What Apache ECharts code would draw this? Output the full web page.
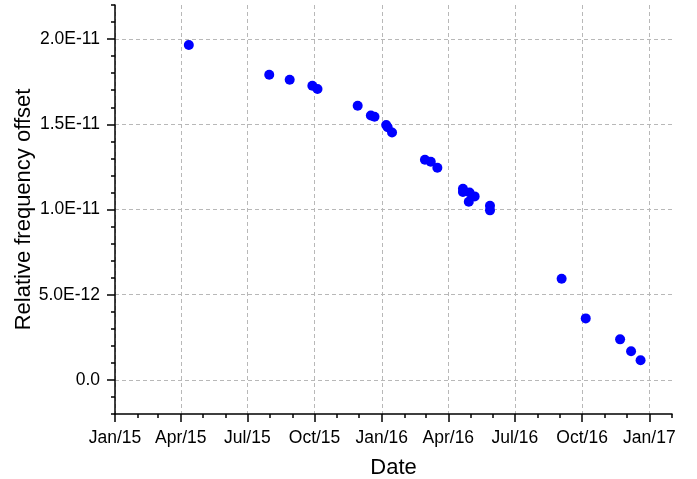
<!DOCTYPE html>
<html><head><meta charset="utf-8">
<script src="https://cdn.jsdelivr.net/npm/echarts@6/dist/echarts.min.js"></script>
<style>html,body{margin:0;padding:0;background:#fff}#c{width:697px;height:479px}</style>
</head><body><div id="c"></div>
<script>
const dates = ['2015-04-12','2015-07-31','2015-08-28','2015-09-28','2015-10-05','2015-11-29','2015-12-17','2015-12-22','2016-01-07','2016-01-09','2016-01-15','2016-02-29','2016-03-08','2016-03-17','2016-04-21','2016-04-21','2016-04-30','2016-05-07','2016-04-29','2016-05-28','2016-05-28','2016-09-03','2016-10-06','2016-11-22','2016-12-07','2016-12-20'];
const values = [1.965e-11,1.791e-11,1.761e-11,1.726e-11,1.707e-11,1.609e-11,1.552e-11,1.544e-11,1.496e-11,1.483e-11,1.452e-11,1.292e-11,1.280e-11,1.245e-11,1.122e-11,1.103e-11,1.100e-11,1.077e-11,1.046e-11,1.022e-11,0.995e-11,0.594e-11,0.361e-11,0.238e-11,0.168e-11,0.115e-11];
const xTickDates = ['2015-01-01','2015-04-01','2015-07-01','2015-10-01','2016-01-01','2016-04-01','2016-07-01','2016-10-01','2017-01-01'];
const xTickLabels = ['Jan/15','Apr/15','Jul/15','Oct/15','Jan/16','Apr/16','Jul/16','Oct/16','Jan/17'];
const yTickValues = [0, 5e-12, 1e-11, 1.5e-11, 2e-11];
const yTickLabels = ['0.0','5.0E-12','1.0E-11','1.5E-11','2.0E-11'];
const xName = 'Date';
const yName = 'Relative frequency offset';

function toUTC(s){const p=s.split('-').map(Number);return Date.UTC(p[0],p[1]-1,p[2]);}
const xMin = toUTC('2015-01-01'), xMax = toUTC('2017-02-01');
const xMajor = xTickDates.map(toUTC);
const xMinor = [];
for (let y=2015; y<=2017; y++) for (let m=0; m<12; m++) { const t=Date.UTC(y,m,1); if (t>=xMin && t<=xMax) xMinor.push(t); }
const yMin = -2e-12, yMax = 2.2e-11;
const data = dates.map((d,i)=>[toUTC(d), values[i]]);
const font = 'Liberation Sans, Arial, sans-serif';
const lineStyle = {color:'#000', width:1.5};
const grid = {left:115, right:25, top:5, bottom:65, outerBoundsMode:'none', containLabel:false};

const chart = echarts.init(document.getElementById('c'), null, {renderer:'canvas'});
chart.setOption({
  animation:false,
  backgroundColor:'#fff',
  grid: grid,
  xAxis: [{
    type:'value', min:xMin, max:xMax, position:'bottom',
    name:xName, nameLocation:'middle', nameGap:43, nameMoveOverlap:false,
    nameTextStyle:{fontFamily:font, fontSize:22, color:'#000'},
    axisLine:{show:true, onZero:false, lineStyle:lineStyle},
    axisTick:{show:true, length:8, lineStyle:lineStyle, customValues:xMajor},
    axisLabel:{show:true, margin:15, fontFamily:font, fontSize:17.5, color:'#000', customValues:xMajor,
      formatter:function(v){ const i=xMajor.findIndex(t=>Math.abs(t-v)<864e5); return i>=0?xTickLabels[i]:''; }},
    splitLine:{show:true, lineStyle:{color:'#b8b8b8', type:[4,3], width:1}},
    minorTick:{show:false}
  },{
    type:'value', min:xMin, max:xMax, position:'bottom', offset:0,
    axisLine:{show:false, onZero:false},
    axisTick:{show:true, length:4, lineStyle:lineStyle, customValues:xMinor},
    axisLabel:{show:false},
    splitLine:{show:false}
  }],
  yAxis: [{
    type:'value', min:yMin, max:yMax, position:'left',
    name:yName, nameLocation:'middle', nameGap:80, nameMoveOverlap:false,
    nameTextStyle:{fontFamily:font, fontSize:22, color:'#000'},
    axisLine:{show:true, onZero:false, lineStyle:lineStyle},
    axisTick:{show:true, length:8, lineStyle:lineStyle, customValues:yTickValues},
    axisLabel:{show:true, margin:15, fontFamily:font, fontSize:17.5, color:'#000', customValues:yTickValues,
      formatter:function(v){ const i=yTickValues.findIndex(t=>Math.abs(t-v)<1e-14); return i>=0?yTickLabels[i]:''; }},
    splitLine:{show:true, lineStyle:{color:'#b8b8b8', type:[4,3], width:1}}
  },{
    type:'value', min:yMin, max:yMax, interval:1e-12, position:'left', offset:0,
    axisLine:{show:false, onZero:false},
    axisTick:{show:true, length:4, lineStyle:lineStyle},
    axisLabel:{show:false},
    splitLine:{show:false}
  }],
  series: [{
    type:'scatter', xAxisIndex:0, yAxisIndex:0, data:data,
    symbol:'circle', symbolSize:10, itemStyle:{color:'#0000ff', opacity:1}
  }]
});
</script></body></html>
